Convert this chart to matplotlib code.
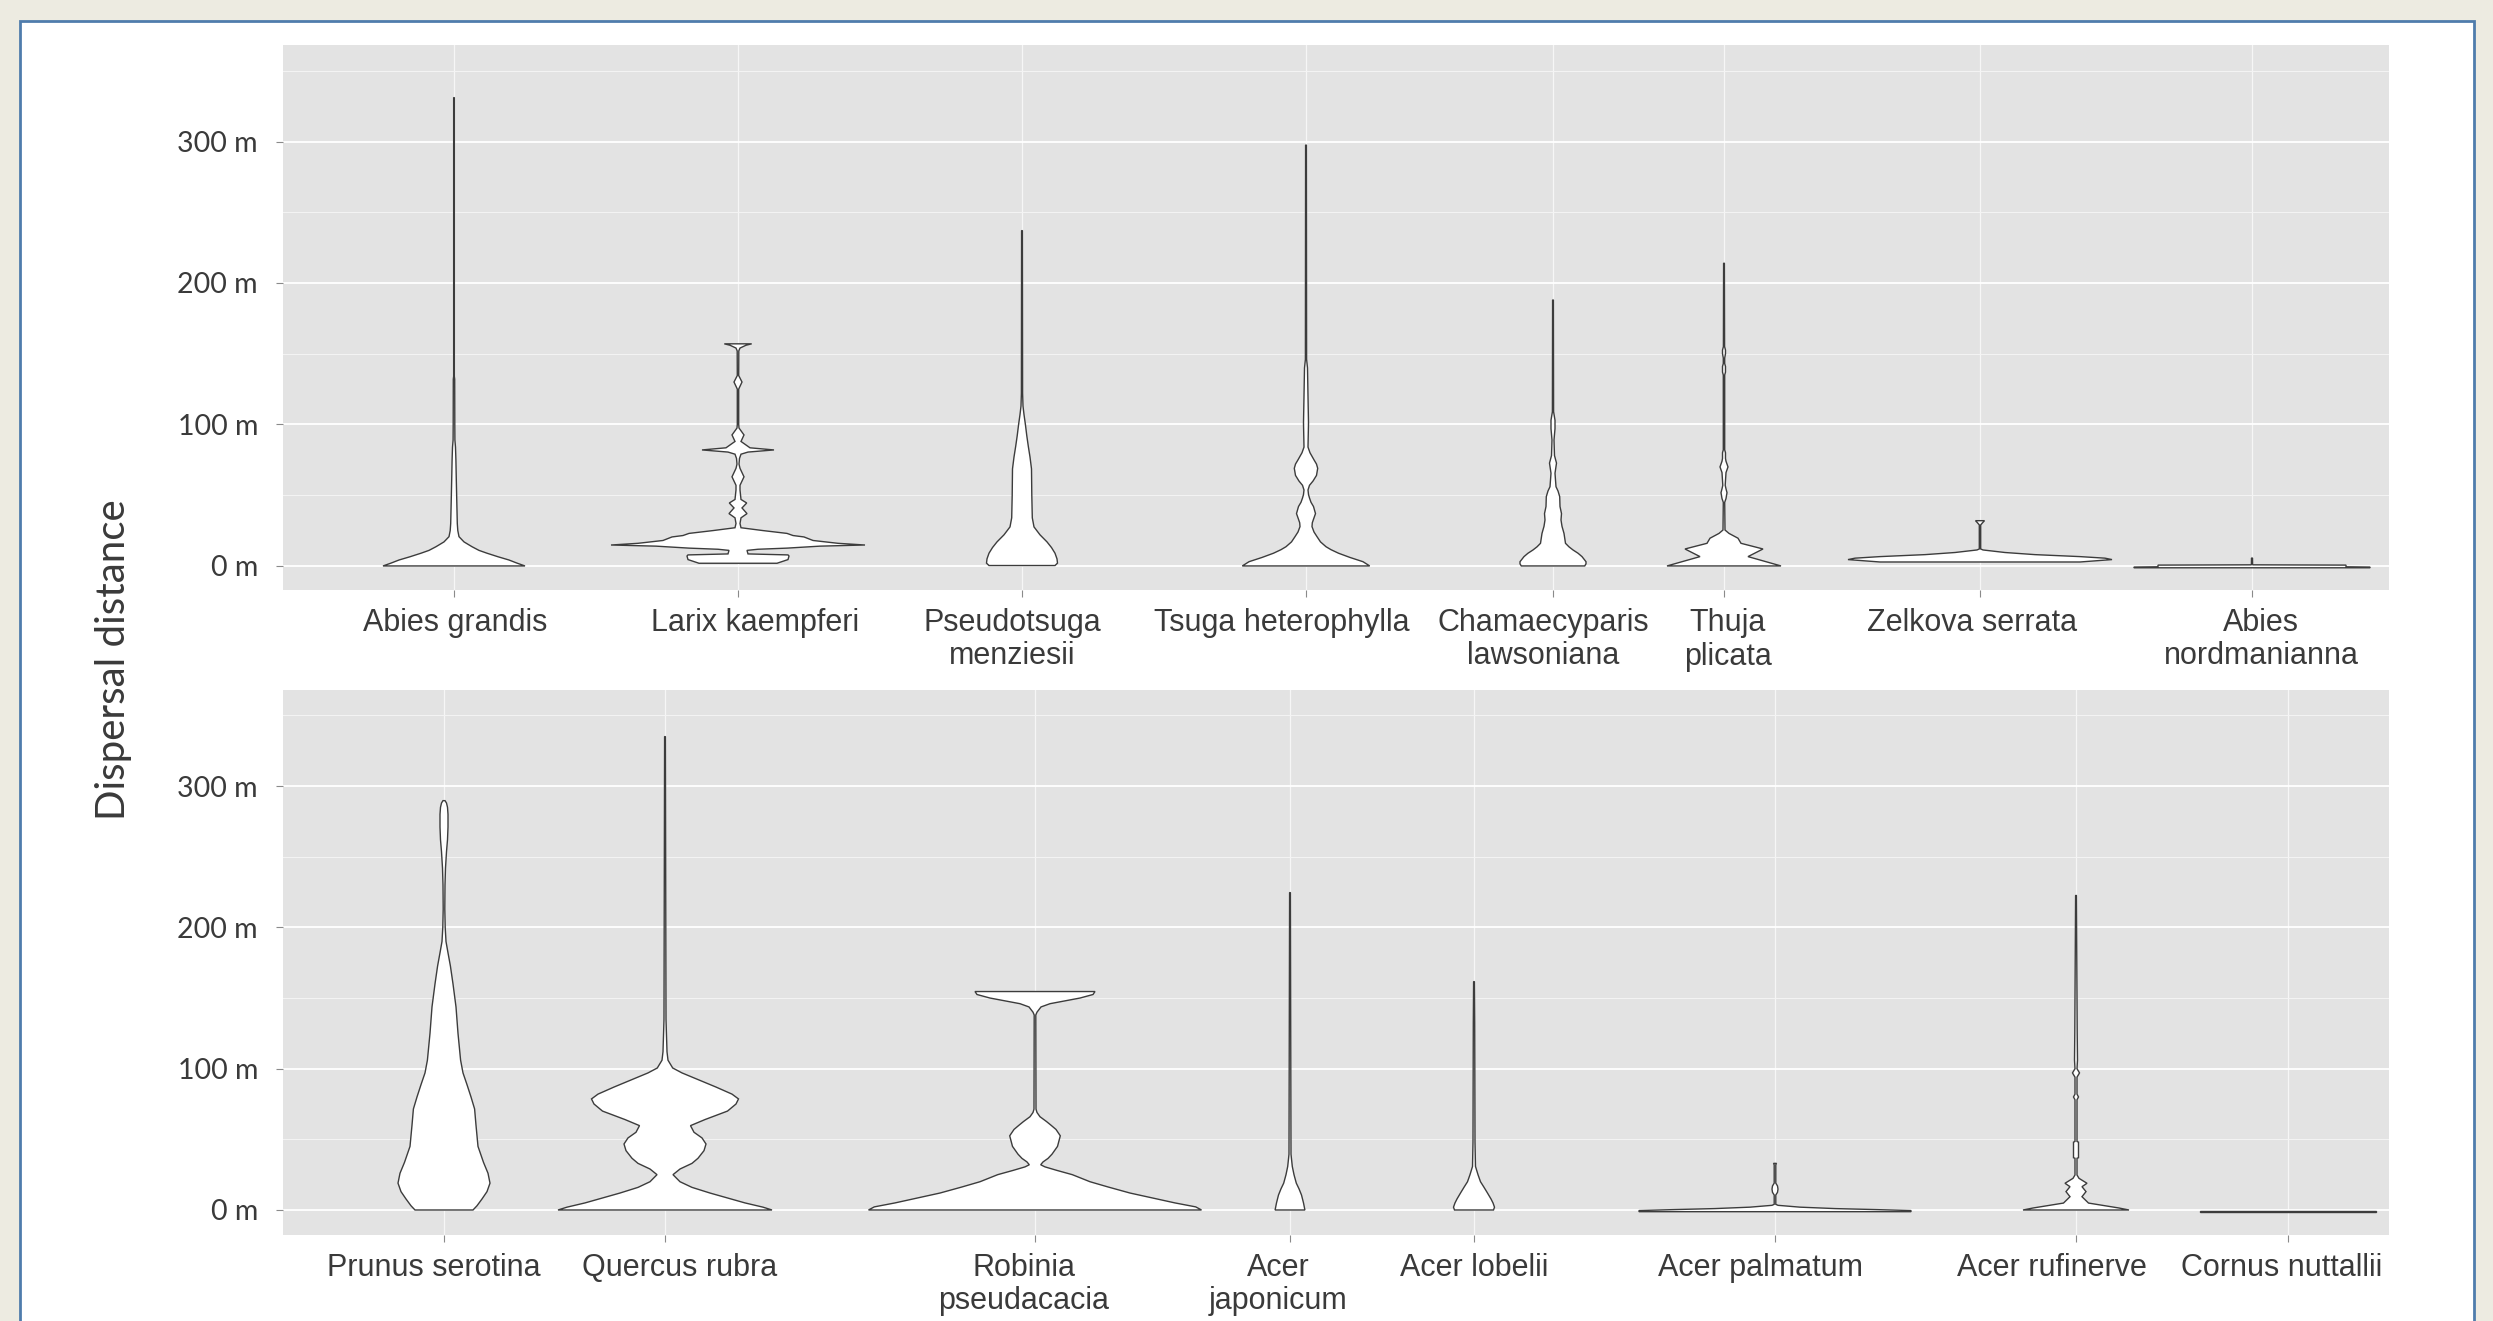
import matplotlib.pyplot as plt
from matplotlib.patches import Rectangle
from matplotlib.ticker import FixedLocator

# canvas size in pixels (dpi 100)
W, H = 2493, 1321

# species shown in each panel
top_species = ['Abies grandis', 'Larix kaempferi', 'Pseudotsuga\nmenziesii', 'Tsuga heterophylla',
               'Chamaecyparis\nlawsoniana', 'Thuja\nplicata', 'Zelkova serrata', 'Abies\nnordmanianna']
bottom_species = ['Prunus serotina', 'Quercus rubra', 'Robinia\npseudacacia', 'Acer\njaponicum',
                  'Acer lobelii', 'Acer palmatum', 'Acer rufinerve', 'Cornus nuttallii']

y_major = [0, 100, 200, 300]
y_minor = [50, 150, 250, 350]

# violin outlines: dispersal distance (m) and half width of the density
abies_grandis_d = [0, 2, 4.2, 6.5, 9, 11, 13.6, 17, 20.7, 25, 30, 45, 61, 75, 84, 89, 100, 132, 134, 331]
abies_grandis_w = [71, 63, 55, 44, 33, 25, 18, 10, 5, 3.8, 3.3, 2.8, 2.3, 1.9, 1.5, 0.9, 0.8, 0.7, 0.35, 0.35]

larix_d = [1.9, 4.5, 7.0, 7.8, 8.5, 11.0, 11.8, 12.6, 14.0, 14.8, 16.0, 18.0, 20.5, 21.5, 23.0,
           25.0, 27.0, 30.0, 34.0, 37.0, 41.0, 44.5, 47.0, 53.7, 57.0, 63.0, 69.0, 72.0, 76.0,
           79.0, 80.5, 82.0, 83.5, 86.0, 88.0, 92.6, 97.5, 100.0, 125.0, 130.0, 134.6, 152.0,
           154.0, 156.0, 157.0]
larix_w = [39, 50, 51, 50, 10, 9, 20, 49, 82, 127, 100, 75, 66, 55, 49,
           25, 3, 2, 3, 9, 4, 8.7, 3, 2, 2, 6, 2, 1, 1.5,
           3, 10, 36, 12, 7, 3, 6, 1, 0.7, 0.7, 4, 0.7, 0.8,
           2, 8, 13.7]

pseudotsuga_d = [0.3, 2, 5, 9, 13, 17, 22, 27.6, 34, 50, 68.6, 77, 84.6, 92, 100, 107, 113, 122, 237]
pseudotsuga_w = [33, 35.5, 35, 33, 29.5, 25, 18, 12, 10.3, 9.8, 9.5, 8, 6.3, 4.8, 3.4, 2, 1, 0.6, 0.4]

tsuga_d = [0, 3, 6, 9, 11.5, 13.6, 17, 20.7, 24, 27.8, 30.5, 33, 37, 42, 45, 48, 50.5, 53.7, 57,
           60, 64, 69, 72, 75, 80, 84, 101, 120, 140, 146, 297.5]
tsuga_w = [63.7, 57, 44, 32.5, 25, 20, 14.5, 11, 8, 6, 6.3, 7.5, 9.5, 7.5, 5, 3.5, 2.5, 2, 3.5,
           7, 10.5, 11.7, 10.5, 8, 4, 2, 2.5, 2, 1.5, 0.6, 0.4]

chamaecyparis_d = [0, 1.5, 3, 6.6, 9, 11.3, 13.5, 16, 23, 28, 32.5, 37, 42, 49, 53, 56, 65.5, 72.7,
                   78, 89, 97, 103, 109, 188]
chamaecyparis_w = [31.7, 33, 33, 29, 25, 20, 16, 12.5, 11, 9, 8, 8.5, 7, 6.7, 5, 3, 2, 3.5,
                   1.5, 1, 2, 2, 0.6, 0.4]

thuja_d = [0, 6.6, 12, 16, 19.6, 23, 25.4, 45, 47.6, 51.8, 54.5, 57, 66, 70, 74, 76, 80, 82,
           135, 137, 141, 143, 147, 150, 152.6, 155, 214]
thuja_w = [57, 24, 39, 17, 14, 5, 1, 0.7, 2, 3, 2, 1.2, 2, 4, 2, 1.5, 1.5, 0.7,
           0.7, 1.5, 1.5, 0.7, 0.7, 1.5, 1.5, 0.6, 0.4]

zelkova_d = [2.8, 4.5, 5.5, 6.6, 8, 9.5, 11.3, 12, 29, 30.5, 32]
zelkova_w = [100, 132, 125, 100, 55, 25, 3, 0.7, 0.7, 2.5, 4.5]

abies_nord_d = [-1.3, -0.8, -0.6, 0.6, 0.8, 5.6]
abies_nord_w = [118, 118, 94, 94, 0.6, 0.5]

prunus_d = [0, 3, 7.8, 13, 19, 26, 33.7, 45, 60, 71.5, 80, 88.7, 97, 106, 125, 143.7, 160,
            172.7, 182, 190, 200, 213, 230, 242, 253.6, 262, 271, 280, 285, 288, 289.7]
prunus_w = [29, 33, 38, 43, 46, 44, 39.5, 34, 32, 30.6, 27, 23, 19, 16.6, 14, 12, 9,
            6.4, 4, 2, 1.2, 0.8, 1, 1.5, 2.5, 3.5, 4, 4, 3.5, 2.5, 1]

quercus_d = [0, 2, 5, 8, 12, 16, 20, 25, 29, 33, 36.6, 42, 46.7, 51, 55, 59.7, 64, 70, 75,
             78.6, 82, 87, 93, 97, 100.5, 106, 112, 135, 335]
quercus_w = [107, 98, 80, 65, 45, 27, 15, 8, 15, 27, 33, 39, 41, 37, 29, 25.5, 40, 62.5, 71,
             73.5, 67, 51, 30.6, 17, 7.7, 3, 2, 1, 0.4]

robinia_d = [0, 2.2, 5, 7.8, 12, 16.3, 20, 25, 28, 30.5, 32, 34, 36.5, 39.5, 45, 52.5, 57, 60,
             62.6, 66, 69, 71.4, 138, 140, 143.7, 146, 148, 150, 152.5, 154.6]
robinia_w = [166.5, 160.7, 140, 122, 95, 73, 55, 37.3, 22, 10, 5.7, 8, 13, 17, 22.5, 25.3, 21, 16,
             11.5, 5, 2, 1, 0.8, 2, 6, 15, 30, 45, 58, 60]

acer_japonicum_d = [0, 5, 10.6, 15, 19, 25, 30.8, 39.5, 224.6]
acer_japonicum_w = [14.9, 13.5, 11.5, 9, 6.3, 4, 2.3, 1, 0.4]

acer_lobelii_d = [0, 2, 5, 7.8, 12, 16.3, 20, 25, 30.8, 48, 132, 161.6]
acer_lobelii_w = [19.5, 20.5, 19, 17, 13.5, 9.8, 6.5, 4, 1.5, 1, 0.7, 0.4]

acer_palmatum_d = [-1.2, -0.4, 0.3, 1.0, 2.0, 3.3, 4, 10.6, 12.5, 14.8, 17, 19, 32, 33]
acer_palmatum_w = [136, 136, 100, 60, 25, 3, 0.8, 0.8, 2.5, 3, 2.5, 0.8, 0.8, 1.5]

acer_rufinerve_d = [0, 1.4, 4.9, 9.4, 13, 16.5, 18.9, 22.4, 24.8, 36.6, 37, 48, 48.5, 78, 80, 82,
                    94, 97, 100, 106, 126, 222.6]
acer_rufinerve_w = [53, 43, 12.5, 6, 10, 6, 11, 3, 1, 1, 2.5, 2.5, 1, 1, 2.5, 1,
                    1, 3.5, 1, 1.5, 1.2, 0.4]

cornus_d = [-1.6, -1.0]
cornus_w = [88, 88]

top_profiles = [(abies_grandis_d, abies_grandis_w), (larix_d, larix_w), (pseudotsuga_d, pseudotsuga_w),
                (tsuga_d, tsuga_w), (chamaecyparis_d, chamaecyparis_w), (thuja_d, thuja_w),
                (zelkova_d, zelkova_w), (abies_nord_d, abies_nord_w)]
bottom_profiles = [(prunus_d, prunus_w), (quercus_d, quercus_w), (robinia_d, robinia_w),
                   (acer_japonicum_d, acer_japonicum_w), (acer_lobelii_d, acer_lobelii_w),
                   (acer_palmatum_d, acer_palmatum_w), (acer_rufinerve_d, acer_rufinerve_w),
                   (cornus_d, cornus_w)]

# layout (pixel units across the panel)
top_pos = [454, 738, 1022, 1306, 1553, 1724, 1980, 2252]
bottom_pos = [444, 665, 1035, 1290, 1474, 1775, 2076, 2288]
top_label_x = [455, 755, 1012, 1282, 1543, 1728, 1972, 2261]
bottom_label_x = [434, 680, 1024, 1278, 1474, 1761, 2052, 2282]

panel_bg = '#E3E3E3'
outline = '#3C3C3C'
text_col = '#3A3A3A'

fig = plt.figure(figsize=(W / 100, H / 100), dpi=100)
fig.patch.set_facecolor('#EDEBE1')
fig.patches.append(Rectangle((20 / W, -0.05), (2474 - 20) / W, 1.05 - 21 / H,
                             transform=fig.transFigure, facecolor='white',
                             edgecolor='#4F7CAC', linewidth=2, zorder=-10))


def draw_violin(ax, x, dist, half):
    xs = [x - h for h in half] + [x + h for h in half[::-1]]
    ys = list(dist) + list(dist[::-1])
    ax.fill(xs, ys, facecolor='white', edgecolor=outline, linewidth=1.0, zorder=3)


def make_panel(rect, ylim, positions, profiles):
    ax = fig.add_axes(rect)
    ax.set_facecolor(panel_bg)
    for s in ax.spines.values():
        s.set_visible(False)
    ax.set_xlim(283, 2389)
    ax.set_ylim(*ylim)
    ax.yaxis.set_major_locator(FixedLocator(y_major))
    ax.yaxis.set_minor_locator(FixedLocator(y_minor))
    ax.set_yticklabels([f'{v} m' for v in y_major], fontfamily='Lato', fontsize=20.5, color=text_col)
    ax.set_xticks(positions)
    ax.set_xticklabels([])
    ax.tick_params(axis='both', which='major', length=5, width=0.8, color='#8A8A8A', pad=13)
    ax.tick_params(axis='y', which='minor', length=0)
    ax.grid(True, which='major', axis='y', color='white', linewidth=1.3, zorder=0)
    ax.grid(True, which='major', axis='x', color='#F6F6F6', linewidth=0.9, zorder=0)
    ax.grid(True, which='minor', axis='y', color='#F4F4F4', linewidth=0.7, zorder=0)
    ax.set_axisbelow(True)
    for x, (d, w) in zip(positions, profiles):
        draw_violin(ax, x, d, w)
    return ax


ax_top = make_panel([283 / W, 1 - 590 / H, 2106 / W, 545.4 / H], (-17, 368.5), top_pos, top_profiles)
ax_bot = make_panel([283 / W, 1 - 1235 / H, 2106 / W, 545 / H], (-17.7, 368), bottom_pos, bottom_profiles)


def put_labels(names, xs, baseline):
    for name, x in zip(names, xs):
        for i, line in enumerate(name.split('\n')):
            fig.text(x / W, 1 - (baseline + 33.5 * i) / H, line, ha='center', va='baseline',
                     fontfamily='Liberation Sans', fontsize=22, color=text_col)


put_labels(top_species, top_label_x, 631)
put_labels(bottom_species, bottom_label_x, 1276)

fig.text(114 / W, 1 - 660 / H, 'Dispersal distance', rotation=90, ha='center', va='center',
         fontfamily='Lato', fontsize=29, color=text_col)

fig.savefig('out.png', dpi=100, facecolor=fig.get_facecolor())
